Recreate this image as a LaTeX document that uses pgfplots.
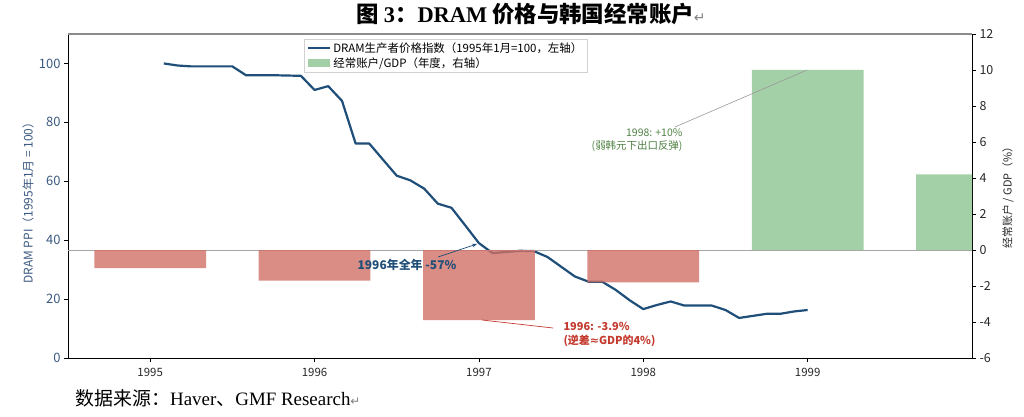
\documentclass[border=0pt]{standalone}
\usepackage{fontspec}
\usepackage{pgfplots}
\pgfplotsset{compat=1.18}
\usetikzlibrary{arrows.meta}
\setmainfont{Noto Sans CJK SC}
\newfontfamily\tnr{Liberation Serif}
\newfontfamily\djv{DejaVu Sans}
\definecolor{lineblue}{RGB}{31,78,121}
\definecolor{axblue}{RGB}{59,89,128}
\definecolor{barred}{RGB}{209,112,101}
\definecolor{bargreen}{RGB}{140,196,144}
\definecolor{annred}{RGB}{196,58,46}
\definecolor{anngreen}{RGB}{78,128,66}
\definecolor{tickgray}{RGB}{40,40,40}
\begin{document}
\begin{tikzpicture}[x=1bp,y=1bp]
\path[use as bounding box] (0,0) rectangle (1024,416);
\begin{axis}[
  at={(68bp,58bp)}, anchor=south west, scale only axis,
  width=904bp, height=324bp,
  xmin=1994.5, xmax=2000, ymin=0, ymax=110,
  axis x line*=bottom, axis y line*=left,
  axis line style={line width=0.8bp, black},
  xtick={1995,1996,1997,1998,1999},
  ytick={0,20,40,60,80,100},
  tick align=outside, major tick length=4bp,
  tick style={black, line width=0.7bp},
  /pgf/number format/assume math mode=true,
  x tick label style={font=\fontsize{11.5}{13}\selectfont, color=tickgray, /pgf/number format/1000 sep={}, yshift=-3bp},
  y tick label style={font=\fontsize{13}{15}\selectfont, color=axblue},
]
\addplot[lineblue, line width=2.2bp, line join=round] coordinates {
(1995.083,100) (1995.167,99.3) (1995.250,99.0) (1995.333,99.0) (1995.417,99.0) (1995.500,99.0)
(1995.583,96.0) (1995.667,96.0) (1995.750,96.0) (1995.833,95.9) (1995.917,95.8) (1996.000,91.0)
(1996.083,92.3) (1996.167,87.3) (1996.250,72.8) (1996.333,72.8) (1996.417,67.3) (1996.500,61.9)
(1996.583,60.3) (1996.667,57.5) (1996.750,52.4) (1996.833,51.0) (1996.917,45.0) (1997.000,39.0)
(1997.083,35.6) (1997.167,36.0) (1997.250,36.4) (1997.333,36.3) (1997.417,34.3) (1997.500,31.0)
(1997.583,27.7) (1997.667,25.9) (1997.750,25.9) (1997.833,23.1) (1997.917,19.6) (1998.000,16.6)
(1998.083,18.0) (1998.167,19.2) (1998.250,17.8) (1998.333,17.8) (1998.417,17.8) (1998.500,16.3)
(1998.583,13.6) (1998.667,14.3) (1998.750,15.0) (1998.833,15.0) (1998.917,15.8) (1999.000,16.3)
};
\draw[black!45, line width=1.2bp] (rel axis cs:0,1) -- (rel axis cs:1,1);
\end{axis}
\begin{axis}[
  at={(68bp,58bp)}, anchor=south west, scale only axis,
  width=904bp, height=324bp,
  xmin=1994.5, xmax=2000, ymin=-6, ymax=12,
  axis y line*=right, axis x line=none,
  axis line style={line width=0.8bp, black},
  ytick={-6,-4,...,12},
  tick align=outside, major tick length=4bp,
  tick style={black, line width=0.7bp},
  /pgf/number format/assume math mode=true,
  y tick label style={font=\fontsize{12.5}{14}\selectfont, color=tickgray},
  ybar, bar width=0.68, bar shift=0pt,
  legend style={at={(0.261,0.985)}, anchor=north west, draw=black!18,
    font=\fontsize{11.5}{13}\selectfont, cells={anchor=west},
    inner xsep=3bp, inner ysep=1.5bp, row sep=0bp},
]
\draw[black!35, line width=0.8bp] (axis cs:1994.5,0) -- (axis cs:2000,0);
\addlegendimage{legend image code/.code={\draw[lineblue, line width=2.2bp] (0bp,0bp) -- (22bp,0bp);}}
\addlegendentry{DRAM生产者价格指数（1995年1月=100，左轴）}
\addplot[fill=barred, fill opacity=0.8, draw=none, forget plot] coordinates {(1995,-1.0) (1996,-1.7) (1997,-3.9) (1998,-1.8)};
\addplot[fill=bargreen, fill opacity=0.8, draw=none,
  legend image code/.code={\fill[bargreen, fill opacity=0.8] (0bp,-4bp) rectangle (22bp,4bp);}]
  coordinates {(1999,10.0) (2000,4.2)};
\addlegendentry{经常账户/GDP（年度，右轴）}
\end{axis}
% annotations
\draw[lineblue, line width=0.7bp, -{Stealth[length=5bp]}] (438,159) -- (477,172);
\node[font=\bfseries\fontsize{12}{13}\selectfont, lineblue] at (407,151) {1996年全年 -57\%};
\draw[annred, line width=0.7bp] (482,96) -- (553,88);
\node[anchor=west, align=left, annred, font=\bfseries\fontsize{11}{13.5}\selectfont] at (560,81.5) {1996: -3.9\%\\(逆差{\djv ≈}GDP的4\%)};
\draw[black!40, line width=0.6bp] (675,289) -- (807,346);
\node[anchor=east, align=right, anngreen, font=\fontsize{10.5}{13}\selectfont] at (686,275.5) {1998: +10\%\\(弱韩元下出口反弹)};
% axis labels
\node[rotate=90, axblue, font=\fontsize{12}{14}\selectfont] at (28,216) {DRAM PPI（1995年1月 = 100）};
\node[rotate=90, tickgray, font=\fontsize{11}{13}\selectfont] at (1008,221) {经常账户 / GDP（\%）};
% title and source
\node[font=\fontsize{22.5}{26}\selectfont] at (531,402) {{\bfseries 图 }{\tnr\bfseries 3}{\bfseries ：}{\tnr\bfseries DRAM} {\bfseries 价格与韩国经常账户}{\djv\fontsize{14}{15}\selectfont\color{gray}↵}};
\node[anchor=west, font=\fontsize{19}{21}\selectfont] at (72,18) {数据来源：{\tnr Haver}、{\tnr GMF Research}{\djv\fontsize{12}{13}\selectfont\color{gray}↵}};
\end{tikzpicture}
\end{document}
